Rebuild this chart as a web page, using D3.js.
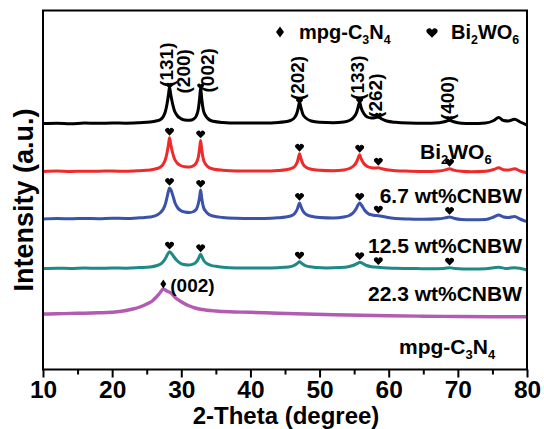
<!DOCTYPE html>
<html><head><meta charset="utf-8">
<script src="https://cdn.jsdelivr.net/npm/d3@7"></script>
<style>
html,body{margin:0;padding:0;background:#fff;}
svg{display:block;font-family:"Liberation Sans",Arial,Helvetica,sans-serif;font-weight:bold;}
</style></head>
<body>
<svg id="chart" width="544" height="429"></svg>
<script>
// ---------- data ----------
const xTicks = [10, 20, 30, 40, 50, 60, 70, 80];
const xMinorTicks = [15, 25, 35, 45, 55, 65, 75];
const seriesNames = ["Bi2WO6", "6.7 wt%CNBW", "12.5 wt%CNBW", "22.3 wt%CNBW", "mpg-C3N4"];
const seriesOffsets = [246, 198, 150.5, 101, 55.5];

// [2theta, relative intensity (a.u.)]
const bwo = [[10,0],[12,0.3],[14,-0.2],[16,0.4],[18,0.2],[20,0.5],[22,0.3],[24,0.8],[25.5,1.4],[26.5,2.8],[27.0,4],[27.4,7],[27.7,12],[27.95,20],[28.15,29],[28.3,36.6],[28.45,30],[28.7,21],[29.0,13],[29.4,8],[29.9,5],[30.5,3.5],[31.2,3.2],[31.8,4.5],[32.2,8],[32.45,14],[32.65,25],[32.8,36],[32.95,25],[33.2,13],[33.5,8],[34.0,4],[34.6,2.2],[36,1],[38,0.5],[40,0.5],[42,0.5],[44,1],[45.8,3],[46.4,6],[46.75,11],[46.95,17],[47.1,21.3],[47.3,16],[47.6,9],[48.1,5],[48.8,2.5],[50,1.2],[52,0.8],[53.5,1.5],[54.3,3],[54.9,6],[55.35,11],[55.6,17],[55.8,21.6],[56.0,16],[56.4,10],[56.9,6.5],[57.5,5.5],[58.0,5.8],[58.5,6.6],[59.0,4.5],[59.7,2.5],[61,1.2],[63,0.5],[65,0.3],[67.3,0.8],[68.2,2],[68.8,3.3],[69.4,1.8],[70.5,0.3],[72,0],[74,0.5],[75.2,3],[75.9,6],[76.6,3],[77.3,2.5],[78.2,4.3],[79,1.5],[80,-1.7]];
const cnbw67 = [[10,0],[12,0.4],[14,0],[16,0.3],[18,0.3],[20,0.5],[22,0.2],[24,0.8],[25.5,1.5],[26.5,3],[27.0,4.5],[27.4,7.5],[27.7,12],[27.95,19],[28.15,27],[28.3,33.7],[28.45,28],[28.7,20],[29.0,13],[29.4,8.5],[29.9,6],[30.5,4.8],[31.2,4.5],[31.8,6],[32.2,9],[32.45,14],[32.65,23],[32.8,31],[32.95,22],[33.2,12],[33.5,7.5],[34.0,4],[34.6,2.5],[36,1.2],[38,0.5],[40,0.6],[42,0.4],[44,1],[45.8,2.8],[46.4,5],[46.75,9],[46.95,14],[47.1,17.7],[47.3,13],[47.6,7.5],[48.1,4],[48.8,2.3],[50,1.3],[52,0.8],[53.5,1.6],[54.3,3],[54.9,5.5],[55.35,9.5],[55.6,14],[55.8,16.7],[56.0,13],[56.4,8],[56.9,5],[57.5,3.8],[58.0,3.5],[58.5,3.7],[59.0,2.8],[59.7,1.8],[61,0.8],[63,0.3],[65,0],[67.3,0.6],[68.2,1.6],[68.8,2.7],[69.4,1.4],[70.5,0.2],[72,-0.3],[74,0.2],[75.2,2],[75.9,3.7],[76.6,1.8],[77.3,1.5],[78.2,2.7],[79,0.5],[80,-1.3]];
const cnbw125 = [[10,0],[12,0.5],[14,0.2],[16,0.6],[18,0.3],[20,0.8],[22,0.5],[24,1.2],[25.5,2],[26.5,4],[27.0,6.5],[27.4,10],[27.7,15],[27.95,22],[28.15,28],[28.3,31],[28.5,29],[28.8,23],[29.1,16],[29.5,11],[29.9,8.5],[30.5,7],[31.2,6.5],[31.8,7.5],[32.2,10],[32.45,15],[32.65,22],[32.8,29],[32.95,21],[33.2,12],[33.5,8],[34.0,4.5],[34.6,3],[36,1.5],[38,0.8],[40,0.6],[42,0.6],[44,1.2],[45.8,3],[46.4,5.5],[46.75,9.5],[46.95,13.5],[47.1,16],[47.3,12.5],[47.6,8],[48.1,4.5],[48.8,2.7],[50,1.5],[52,1],[53.5,2],[54.3,3.5],[54.9,6.5],[55.35,11],[55.6,14.5],[55.8,16],[56.05,14],[56.5,9],[57.0,5.5],[57.6,4],[58.0,3.5],[58.5,3.3],[59.0,2.8],[59.7,1.8],[61,0.6],[63,0],[65,-0.3],[67.3,0.2],[68.2,1.2],[68.8,2],[69.4,0.8],[70.5,-0.5],[72,-0.8],[74,-0.5],[75.2,2],[75.9,4],[76.6,2],[77.3,1.5],[78.2,2.5],[79,0],[80,-2.7]];
const cnbw223 = [[10,0],[12,0.3],[14,0],[16,0.4],[18,0.2],[20,0.5],[22,0.3],[24,0.9],[25.5,1.5],[26.5,3],[27.0,4.5],[27.4,7],[27.7,10],[28.0,14],[28.3,16.8],[28.6,15],[28.9,12],[29.3,8.5],[29.8,5.5],[30.4,4],[31.0,3.5],[31.6,4.2],[32.1,6],[32.45,9.5],[32.65,12.5],[32.8,14.2],[33.0,11.5],[33.3,7.5],[33.7,5],[34.3,3.2],[35,2.2],[36,1.3],[38,0.6],[40,0.5],[42,0.4],[44,0.8],[45.5,1.5],[46.3,3],[46.75,5],[47.1,6.8],[47.45,5],[47.9,3],[48.6,1.7],[49.5,1],[51,0.6],[53,0.9],[54.3,2],[55.0,3.5],[55.5,5.2],[55.8,6.2],[56.2,5.2],[56.8,3],[57.5,1.8],[58.0,1.4],[58.5,1.3],[59.2,0.8],[61,0.3],[64,0],[66,-0.3],[68,0.1],[68.8,0.8],[69.6,0],[72,-0.5],[74,-0.3],[75.9,1.2],[77,0],[78.2,0.8],[80,-1.5]];
const mpgCN = [[10,0],[12,0.2],[14,0.6],[16,0.8],[18,1.2],[20,1.8],[22,3.5],[23,5],[24,7],[25,10],[25.8,13],[26.4,17],[26.9,21],[27.4,25],[27.9,23],[28.5,21],[29.2,16],[30,12.3],[31,8.5],[32,6],[33,4.5],[35,3],[37,2.2],[40,1.7],[44,0.7],[48,0],[52,-0.7],[56,-1.3],[60,-1.8],[65,-2.2],[70,-2.5],[75,-2.7],[80,-2.8]];
const seriesData = [bwo, cnbw67, cnbw125, cnbw223, mpgCN];

const bwoPeaks = [28.3, 32.8, 47.1, 55.8, 58.5, 68.8];
const cnPeak = 27.4;
const cnPeakLabel = "(002)";

// ---------- styles / layout ----------
const colors = ["#000000", "#ee2a2a", "#3a52aa", "#1e8a86", "#b25bb0"];
const M = {left: 43, right: 527, top: 10.5, bottom: 369.5};
const svg = d3.select("#chart");

const x = d3.scaleLinear().domain([10, 80]).range([M.left, M.right]);
const y = d3.scaleLinear().domain([0, 359]).range([M.bottom, M.top]);

const line = d3.line().x(d => x(d[0])).y(d => y(d[1])).curve(d3.curveMonotoneX);

// traces
seriesData.forEach((s, i) => {
  const pts = s.map(d => [d[0], d[1] + seriesOffsets[i]]);
  svg.append("path").datum(pts)
    .attr("fill", "none").attr("stroke", colors[i])
    .attr("stroke-width", i === 4 ? 3.4 : 3)
    .attr("stroke-linejoin", "round")
    .attr("d", line);
});

// helpers
function heartPath(s) {
  const k = s / 2;
  return `M0,${0.85*k} L${-0.95*k},${-0.1*k} A${0.5*k},${0.5*k} 0 0,1 0,${-0.55*k} A${0.5*k},${0.5*k} 0 0,1 ${0.95*k},${-0.1*k} Z`;
}
function diamondPath(w, h) {
  return `M0,${-h/2} L${w/2},0 L0,${h/2} L${-w/2},0 Z`;
}
function apexValue(i, t) {
  const s = seriesData[i];
  let best = s[0];
  s.forEach(d => { if (Math.abs(d[0] - t) < Math.abs(best[0] - t)) best = d; });
  return best[1] + seriesOffsets[i];
}

// hearts on Bi2WO6-containing traces
[0, 1, 2, 3].forEach(i => {
  bwoPeaks.forEach(t => {
    const py = y(apexValue(i, t)) + (i === 0 ? -1 : -6);
    svg.append("path").attr("d", heartPath(i === 0 ? 7 : 9))
      .attr("transform", `translate(${x(t)},${py})`).attr("fill", "#000");
  });
});
// diamond on mpg-C3N4
svg.append("path").attr("d", diamondPath(6, 9))
  .attr("transform", `translate(${x(cnPeak)},${y(apexValue(4, cnPeak)) - 5})`).attr("fill", "#000");
svg.append("text").attr("x", x(cnPeak) + 7).attr("y", y(apexValue(4, cnPeak)) + 3)
  .attr("font-size", 19).text(cnPeakLabel);

// rotated peak labels on top trace
const peakLabelLayout = [
  {t: 28.3, txt: "(131)", dx: 3, dy: 0},
  {t: 32.8, txt: "(200)", dx: -10.5, dy: 6},
  {t: 32.8, txt: "(002)", dx: 13, dy: 5},
  {t: 47.1, txt: "(202)", dx: 4.5, dy: -2},
  {t: 55.8, txt: "(133)", dx: 4.5, dy: -2},
  {t: 58.5, txt: "(262)", dx: 4, dy: 1},
  {t: 68.8, txt: "(400)", dx: 4, dy: 0}
];
peakLabelLayout.forEach(p => {
  const px = x(p.t) + p.dx, py = y(apexValue(0, p.t)) + p.dy;
  svg.append("text").attr("transform", `translate(${px},${py}) rotate(-90)`)
    .attr("font-size", 19).attr("text-anchor", "start").text(p.txt);
});

// rich text with subscripts
function richText(g, parts, size) {
  const t = g.append("text").attr("font-size", size);
  let sub = false;
  parts.forEach(p => {
    const isSub = p[1];
    const ts = t.append("tspan").text(p[0]);
    if (isSub) ts.attr("font-size", size * 0.62);
    if (isSub !== sub) ts.attr("dy", isSub ? size * 0.25 : -size * 0.25);
    sub = isSub;
  });
  return t;
}
const bwoParts = [["Bi", false], ["2", true], ["WO", false], ["6", true]];
const cnParts = [["mpg-C", false], ["3", true], ["N", false], ["4", true]];

// series labels (below each trace)
const seriesLabelLayout = [
  {parts: bwoParts, anchor: "start", x: 420, dy: 35},
  {parts: [[seriesNames[1], false]], anchor: "end", x: 522, dy: 31.6},
  {parts: [[seriesNames[2], false]], anchor: "end", x: 522, dy: 34.3},
  {parts: [[seriesNames[3], false]], anchor: "end", x: 522, dy: 32.5},
  {parts: cnParts, anchor: "start", x: 399, dy: 40}
];
seriesLabelLayout.forEach((l, i) => {
  richText(svg, l.parts, 21).attr("x", l.x).attr("y", y(seriesOffsets[i]) + l.dy)
    .attr("text-anchor", l.anchor);
});

// legend
svg.append("path").attr("d", diamondPath(8, 11)).attr("transform", "translate(280,32)").attr("fill", "#000");
richText(svg, cnParts, 20).attr("x", 299).attr("y", 38.5);
svg.append("path").attr("d", heartPath(11)).attr("transform", "translate(432,33)").attr("fill", "#000");
richText(svg, bwoParts, 20).attr("x", 451).attr("y", 38.5);

// axes
const gx = svg.append("g").attr("transform", `translate(0,${M.bottom})`)
  .call(d3.axisBottom(x).tickValues(xTicks).tickSize(8).tickFormat(d3.format("d")));
gx.select(".domain").remove();
gx.selectAll("line").attr("stroke", "#000").attr("stroke-width", 2);
gx.selectAll("text").attr("y", 28).attr("dy", 0).attr("font-size", 24.5)
  .attr("font-family", "Liberation Sans, Arial, sans-serif").attr("font-weight", "bold").attr("fill", "#000");
const gm = svg.append("g").attr("transform", `translate(0,${M.bottom})`)
  .call(d3.axisBottom(x).tickValues(xMinorTicks).tickSize(5).tickFormat(""));
gm.select(".domain").remove();
gm.selectAll("line").attr("stroke", "#000").attr("stroke-width", 2);

// frame
svg.append("rect").attr("x", M.left).attr("y", M.top)
  .attr("width", M.right - M.left).attr("height", M.bottom - M.top)
  .attr("fill", "none").attr("stroke", "#000").attr("stroke-width", 2);

// axis titles
svg.append("text").attr("x", 286).attr("y", 423.8)
  .attr("text-anchor", "middle").attr("font-size", 24).text("2-Theta (degree)");
svg.append("text").attr("transform", `translate(33,${(M.top + M.bottom) / 2 + 10}) rotate(-90)`)
  .attr("text-anchor", "middle").attr("font-size", 27).text("Intensity (a.u.)");
</script>
</body></html>
